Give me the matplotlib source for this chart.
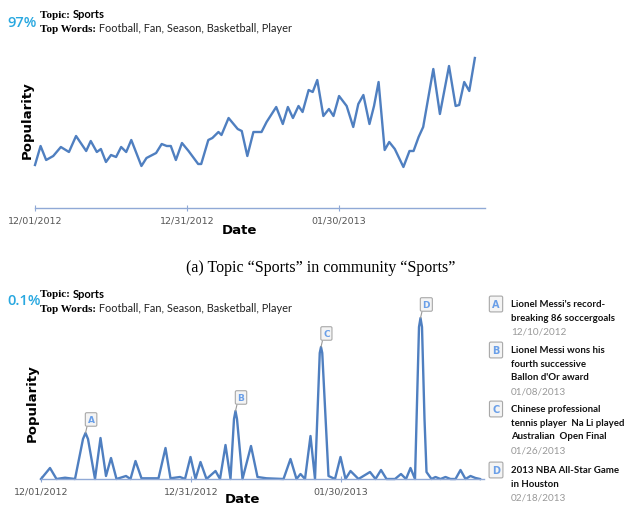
import numpy as np
import matplotlib.pyplot as plt

# ---- data (x = days since 12/01/2012) ----
top_days = [0, 1.1, 2.2, 3.6, 5.1, 6.7, 8.1, 10.1, 11, 12.2, 13, 14, 15, 16, 17, 18, 19,
            21, 22, 23.9, 25, 26, 26.8, 27.8, 29, 30.3, 32.2, 32.8, 34.2, 35, 36.2, 36.8,
            38.2, 40, 40.8, 41.9, 43.1, 44.7, 45.7, 47.6, 48.9, 49.9, 50.9, 52, 52.8, 54,
            54.8, 55.7, 56.9, 58, 58.9, 60, 61.5, 62.8, 63.8, 64.8, 66, 66.9, 67.8, 69,
            69.9, 71, 72.7, 73.9, 74.7, 75.7, 76.6, 78.6, 79.9, 81.7, 83, 83.7, 84.7, 85.7, 86.8]
top_pop = [43, 62, 48, 52, 61, 56, 72, 57, 67, 56, 59, 46, 53, 51, 61, 56, 68,
           42, 50, 55, 64, 62, 62, 48, 65, 57, 44, 44, 68, 70, 76, 73,
           90, 79, 77, 52, 76, 76, 86, 101, 84, 101, 90, 102, 96, 118,
           116, 128, 92, 99, 92, 112, 102, 81, 104, 113, 84, 102, 126, 58,
           66, 59, 41, 57, 57, 71, 81, 139, 94, 142, 102, 103, 126, 117, 150]

bot_days = [0, 1.8, 3.1, 4.8, 6.8, 8.4, 8.9, 9.4, 10.8, 11.9, 13, 14, 15.1, 17, 17.9, 18.9,
            20.1, 23.5, 24.9, 25.9, 27.8, 28.8, 29.9, 30.9, 31.9, 33.1, 34.9, 35.8, 36.9,
            37.9, 38.6, 38.9, 39.2, 40.3, 42, 43.3, 45.1, 48.5, 49.9, 51.1, 51.9, 52.8,
            53.9, 54.8, 55.75, 56, 56.25, 57.5, 58.8, 59.9, 60.9, 61.9, 63.5,
            65.8, 66.9, 68, 69.1, 70.8, 72, 73, 73.9, 74.8, 75.6, 75.9, 76.2, 76.7, 77.1,
            78.1, 78.9, 79.9, 80.9, 81.9, 82.9, 83.9, 84.9, 85.9, 86.9, 87.8]
bot_pop = [0, 11, 0, 1.3, 0, 40, 46, 40, 0, 41, 3, 21, 0, 3, 0, 18,
           0.7, 0.7, 31, 0.7, 2, 0, 22, 0, 17, 0, 8, 0, 34,
           0, 60, 68, 60, 0, 33, 2, 0.7, 0, 20, 0, 5, 0,
           43, 0, 126, 132, 126, 3, 0, 22, 0, 8, 0,
           7, 0, 9, 0, 0, 5, 0, 11, 0, 152, 161, 152, 60, 7,
           0, 2, 0, 2, 0, 0, 9, 0, 3, 1, 0]

tick_days = [0, 30, 60]
tick_labels = ["12/01/2012", "12/31/2012", "01/30/2013"]

event_letters = ["A", "B", "C", "D"]
event_days = [8.9, 38.9, 56, 75.9]
event_titles = [["Lionel Messi's record-", "breaking 86 soccergoals"],
                ["Lionel Messi wons his", "fourth successive", "Ballon d'Or award"],
                ["Chinese professional", "tennis player  Na Li played", "Australian  Open Final"],
                ["2013 NBA All-Star Game", "in Houston"]]
event_dates = ["12/10/2012", "01/08/2013", "01/26/2013", "02/18/2013"]

line_col = "#4f7fc0"
axis_col = "#90a9d6"
pct_col = "#29a8e0"
letter_col = "#6a9fe8"

W, H = 635, 506
fig = plt.figure(figsize=(W / 100, H / 100), dpi=100)


def fx(px):
    return px / W


def fy(py):
    return 1 - py / H


def setup(ax, xmax, ymax):
    ax.set_xlim(0, xmax)
    ax.set_ylim(0, ymax)
    for s in ["top", "right", "left"]:
        ax.spines[s].set_visible(False)
    ax.spines["bottom"].set_color(axis_col)
    ax.spines["bottom"].set_linewidth(1.0)
    ax.set_yticks([])
    ax.set_xticks(tick_days)
    ax.set_xticklabels(tick_labels, fontsize=6.8, color="#555555", family="DejaVu Sans")
    ax.tick_params(axis="x", direction="inout", length=5, width=0.8, color=axis_col, pad=3)
    ax.patch.set_alpha(0)


def header(y_topic, y_words, x_pct, y_pct, pct):
    fig.text(fx(x_pct), fy(y_pct), pct, color=pct_col, fontsize=10.5, ha="center",
             va="center", family="Open Sans", fontweight="semibold")
    t1 = fig.text(fx(40), fy(y_topic), "Topic: ", fontsize=8, fontweight="bold",
                  family="Liberation Serif", va="center")
    plt.annotate("Sports", xy=(1, 0.5), xycoords=t1, va="center", fontsize=8,
                 fontweight="bold", family="Lato", annotation_clip=False)
    t2 = fig.text(fx(40), fy(y_words), "Top Words:", fontsize=8, fontweight="bold",
                  family="Liberation Serif", va="center")
    plt.annotate(" Football, Fan, Season, Basketball, Player", xy=(1, 0.5), xycoords=t2,
                 va="center", fontsize=7.9, family="Lato", color="#222222",
                 annotation_clip=False)


# ---- top panel ----
ax1 = fig.add_axes([fx(35), fy(209), fx(450), 154 / H])
setup(ax1, 88.8, 154)
ax1.plot(top_days, top_pop, color=line_col, lw=1.7, solid_joinstyle="round", clip_on=False)
header(15, 29, 22, 23, "97%")
fig.text(fx(27), fy(120), "Popularity", rotation=90, fontsize=9.5, fontweight="bold",
         ha="center", va="center", family="DejaVu Sans")
fig.text(fx(239), fy(230), "Date", fontsize=9.5, fontweight="bold", ha="center",
         va="center", family="DejaVu Sans")

fig.text(fx(321), fy(268), "(a) Topic \u201cSports\u201d in community \u201cSports\u201d",
         fontsize=11.5, family="Liberation Serif", ha="center", va="center")

# ---- bottom panel ----
ax2 = fig.add_axes([fx(41), fy(480), fx(443), 165 / H])
setup(ax2, 88.6, 165)
ax2.plot(bot_days, bot_pop, color=line_col, lw=1.7, solid_joinstyle="round", clip_on=False)
header(295, 309, 24, 301, "0.1%")
fig.text(fx(32), fy(403), "Popularity", rotation=90, fontsize=9.5, fontweight="bold",
         ha="center", va="center", family="DejaVu Sans")
fig.text(fx(242), fy(500), "Date", fontsize=9.5, fontweight="bold", ha="center",
         va="center", family="DejaVu Sans")

box = dict(boxstyle="round,pad=0.25,rounding_size=0.15", fc="#f4f4f4", ec="#a8a8a8", lw=0.8)
bd = np.array(bot_days)
for letter, d in zip(event_letters, event_days):
    i = int(np.argmin(np.abs(bd - d)))
    ax2.annotate(letter, xy=(bot_days[i], bot_pop[i]), xytext=(1.5, 6.5),
                 textcoords="offset points", ha="left", va="bottom", fontsize=6.5,
                 fontweight="bold", color=letter_col, family="DejaVu Sans", bbox=box,
                 arrowprops=dict(arrowstyle="-", color="#999999", lw=0.8, relpos=(0, 0),
                                 shrinkA=0, shrinkB=0),
                 annotation_clip=False)

# ---- event list on the right ----
entry_tops = [305, 351, 410, 471]
for letter, title, date, y0 in zip(event_letters, event_titles, event_dates, entry_tops):
    fig.text(fx(496), fy(y0), letter, fontsize=7, fontweight="bold", color=letter_col,
             ha="center", va="center", family="DejaVu Sans",
             bbox=dict(boxstyle="round,pad=0.3,rounding_size=0.15", fc="#f4f4f4",
                       ec="#a8a8a8", lw=0.8))
    for k, line in enumerate(title):
        fig.text(fx(511), fy(y0 + 13.2 * k), line, fontsize=6.9, fontweight="bold",
                 family="Lato", va="center", color="#111111")
    fig.text(fx(511), fy(y0 + 13.2 * len(title) + 1), date, fontsize=7.2, family="Lato",
             va="center", color="#999999")

fig.savefig("out.png", dpi=100)
